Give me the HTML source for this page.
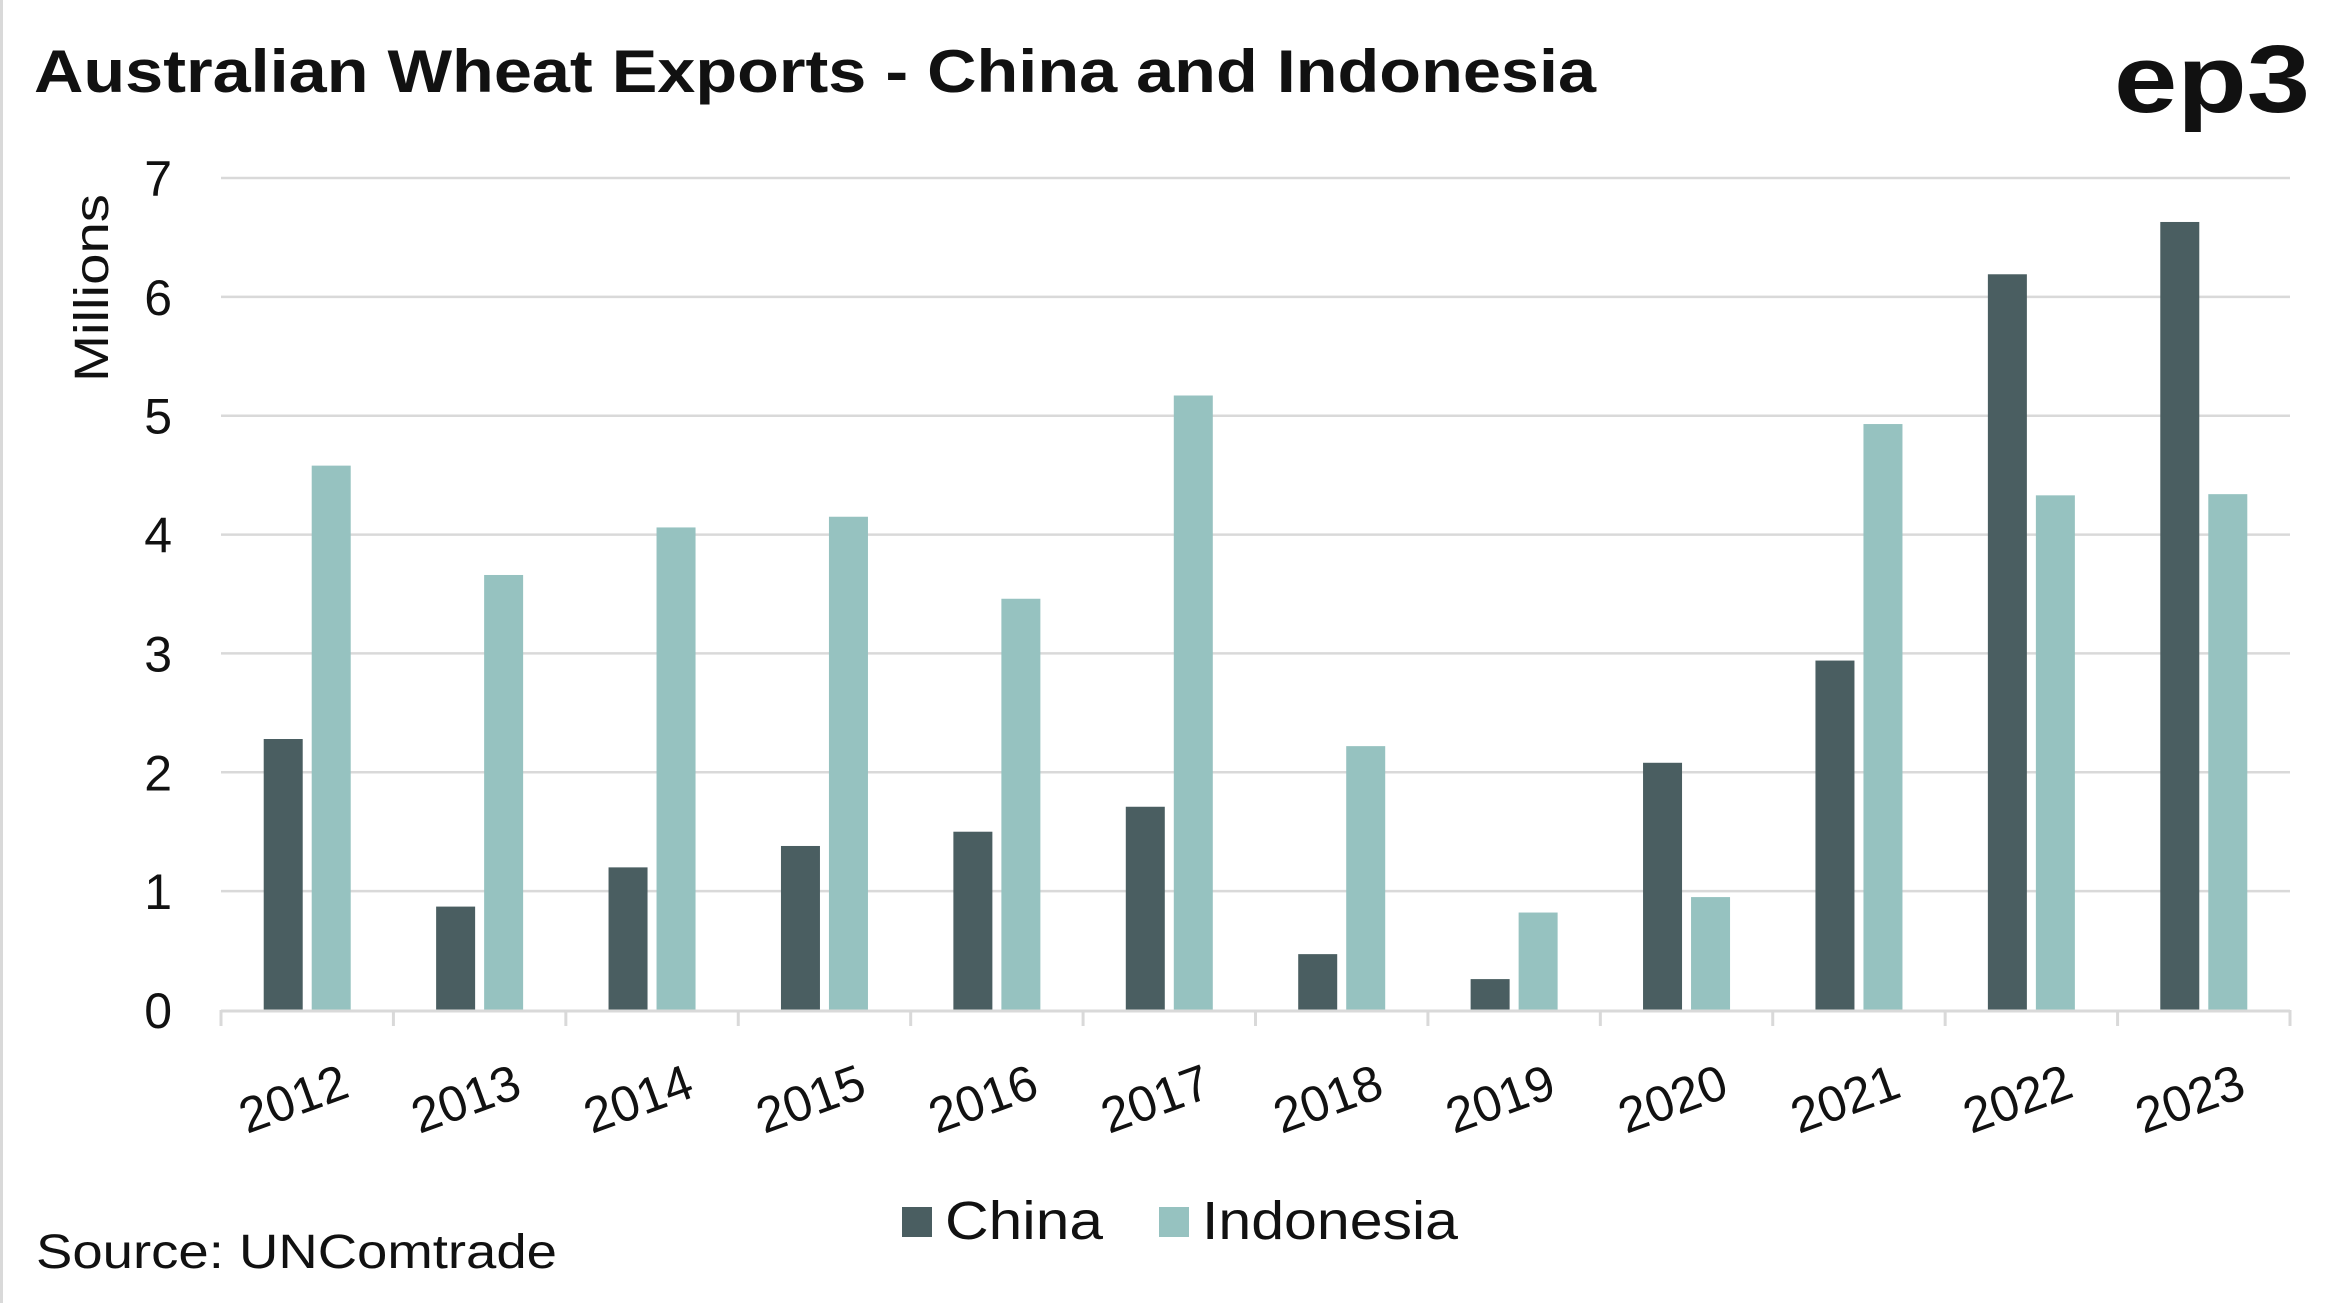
<!DOCTYPE html>
<html><head><meta charset="utf-8"><style>
html,body{margin:0;padding:0;background:#fff;}
svg{display:block;font-family:"Liberation Sans",sans-serif;}
</style></head><body>
<svg id="chart" width="2342" height="1303" viewBox="0 0 2342 1303">
<rect x="0" y="0" width="2342" height="1303" fill="#fff"/>
<rect x="0" y="0" width="3" height="1303" fill="#d9d9d9"/>
<text x="34" y="92" font-size="60" font-weight="bold" fill="#111" textLength="1562" lengthAdjust="spacingAndGlyphs">Australian Wheat Exports - China and Indonesia</text>
<text x="2310" y="112" text-anchor="end" font-size="96" font-weight="bold" fill="#111" textLength="196" lengthAdjust="spacingAndGlyphs">ep3</text>
<text transform="translate(108,288) rotate(-90)" text-anchor="middle" font-size="48" fill="#111" textLength="188" lengthAdjust="spacingAndGlyphs">Millions</text>
<g id="grid"></g><g id="bars"></g><g id="xaxis"></g>
<rect x="902" y="1207" width="30" height="30" fill="#4a5e61"/>
<text x="945" y="1239" font-size="54" fill="#111" textLength="158" lengthAdjust="spacingAndGlyphs">China</text>
<rect x="1159" y="1207" width="30" height="30" fill="#96c2c0"/>
<text x="1202" y="1239" font-size="54" fill="#111" textLength="256" lengthAdjust="spacingAndGlyphs">Indonesia</text>
<text x="36" y="1268" font-size="48" fill="#111" textLength="521" lengthAdjust="spacingAndGlyphs">Source: UNComtrade</text>
</svg>
<script>
const categories=["2012","2013","2014","2015","2016","2017","2018","2019","2020","2021","2022","2023"];
const chinaValues=[2.28,0.87,1.2,1.38,1.5,1.71,0.47,0.26,2.08,2.94,6.19,6.63];
const indonesiaValues=[4.58,3.66,4.06,4.15,3.46,5.17,2.22,0.82,0.95,4.93,4.33,4.34];
const yTicks=[0,1,2,3,4,5,6,7];
const NS="http://www.w3.org/2000/svg";
const X0=221,X1=2290,Y0=1010,Y7=178,YMAX=7;
const bw=(X1-X0)/categories.length;
function y(v){return Y0-(Y0-Y7)*v/YMAX;}
function xc(i){return X0+bw*(i+0.5);}
function mk(t,a){const e=document.createElementNS(NS,t);for(const k in a)e.setAttribute(k,a[k]);return e;}
const grid=document.getElementById('grid'),bars=document.getElementById('bars'),xa=document.getElementById('xaxis');
yTicks.forEach(t=>{
 if(t>0){const l=mk('line',{x1:X0,x2:X1,y1:y(t),y2:y(t),stroke:'#d9d9d9','stroke-width':2.5});
 
 grid.appendChild(l);}
 const tx=mk('text',{x:172,y:y(t)+18,'text-anchor':'end','font-size':50,fill:'#111'});tx.textContent=t;
 
 grid.appendChild(tx);
});
const base=mk('line',{x1:X0,x2:X1,y1:Y0+1,y2:Y0+1,stroke:'#d9d9d9','stroke-width':3});

xa.appendChild(base);
for(let i=0;i<=categories.length;i++){
 const t=mk('line',{x1:X0+bw*i,x2:X0+bw*i,y1:Y0,y2:Y0+16,stroke:'#d9d9d9','stroke-width':3});
 
 xa.appendChild(t);
}
categories.forEach((c,i)=>{
 const cx=xc(i),w=39,g=4.5;
 const b1=mk('rect',{x:cx-g-w,y:y(chinaValues[i]),width:w,height:Y0-y(chinaValues[i]),fill:'#4a5e61'});
 
 bars.appendChild(b1);
 const b2=mk('rect',{x:cx+g,y:y(indonesiaValues[i]),width:w,height:Y0-y(indonesiaValues[i]),fill:'#96c2c0'});
 
 bars.appendChild(b2);
 const tx=mk('text',{transform:`translate(${cx-8},${Y0+105}) rotate(-20)`,'text-anchor':'middle','font-size':50,fill:'#111'});
 tx.textContent=c;
 
 xa.appendChild(tx);
});
</script>
</body></html>
